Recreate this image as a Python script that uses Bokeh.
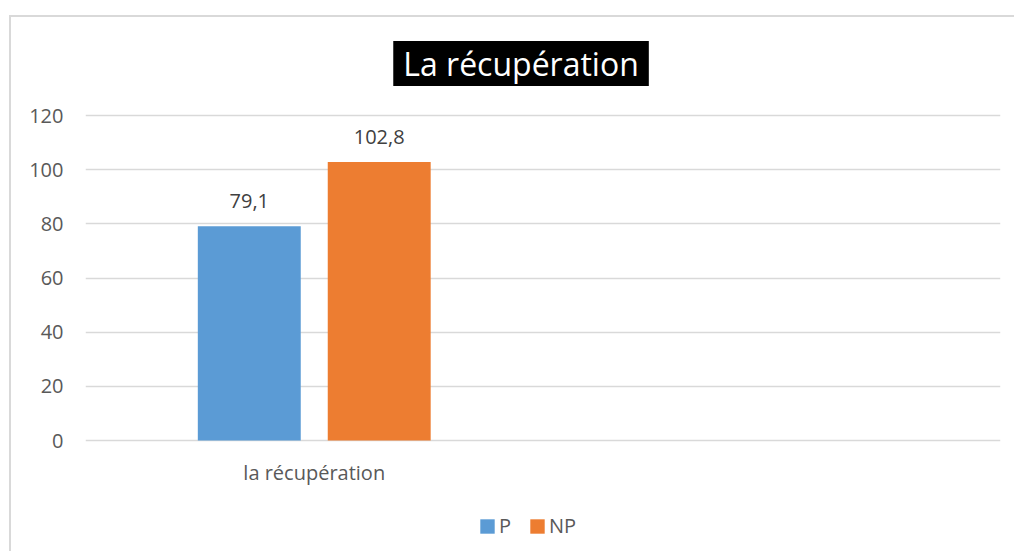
from bokeh.plotting import figure
from bokeh.models import (Range1d, FixedTicker, Label, LabelSet, ColumnDataSource,
                          Legend, LegendItem)
from bokeh.core.properties import value
from bokeh.transform import dodge
from bokeh.embed import file_html
from bokeh.resources import INLINE

# ---- data ----
categories = ["la récupération"]
series_names = ["P", "NP"]
p_values = [79.1]
np_values = [102.8]
y_ticks = [0, 20, 40, 60, 80, 100, 120]
title_text = "La récupération"

FONT = "Open Sans"
BLUE = "#5B9BD5"
ORANGE = "#ED7D31"
GRID = "#D9D9D9"
TICK_TXT = "#595959"

n_slots = 2  # one filled category + one empty slot (as in the reference)
xs = [i + 0.5 for i in range(len(categories))]

src = ColumnDataSource(dict(
    x=xs,
    y0=[0] * len(categories),
    cat=categories,
    p=p_values,
    np_=np_values,
    p_lbl=[f"{v:.1f}".replace(".", ",") for v in p_values],
    np_lbl=[f"{v:.1f}".replace(".", ",") for v in np_values],
))

# frame spans the canvas vertically; value axis 0..120 occupies the middle part
p = figure(width=1005, height=536, output_backend="svg", toolbar_location=None,
           x_range=Range1d(0, n_slots), y_range=Range1d(-41.72, 156.185),
           min_border_left=74, min_border_right=16, min_border_top=0,
           min_border_bottom=0)
p.title = None
p.margin = (15, 0, 0, 9)
p.styles = {"border-top": f"2px solid {GRID}", "border-left": f"2px solid {GRID}"}
p.outline_line_color = None
p.background_fill_color = "white"
p.border_fill_color = "white"

off = 0.142
bw = 0.225
r1 = p.vbar(x=dodge("x", -off, range=p.x_range), top="p", width=bw, source=src,
            fill_color=BLUE, line_color=None)
r2 = p.vbar(x=dodge("x", off, range=p.x_range), top="np_", width=bw, source=src,
            fill_color=ORANGE, line_color=None)

for col, lbl, o in (("p", "p_lbl", -off), ("np_", "np_lbl", off)):
    p.add_layout(LabelSet(x=dodge("x", o, range=p.x_range), y=col, text=lbl, source=src,
                          text_align="center", text_baseline="alphabetic", y_offset=18,
                          text_font=value(FONT), text_font_size="20px",
                          text_color="#404040"))

# category labels under the zero line
p.add_layout(LabelSet(x="x", y="y0", text="cat", source=src, text_align="center",
                      text_baseline="top", y_offset=-18, text_font=value(FONT),
                      text_font_size="20px", text_color=TICK_TXT))

# title box
p.add_layout(Label(x=0.952, y=139.2, text=title_text, text_align="center",
                   text_baseline="middle", text_font=FONT, text_font_size="32px",
                   text_color="white", background_fill_color="black",
                   padding=(10, 1)))

# axes
p.yaxis.ticker = FixedTicker(ticks=y_ticks)
p.yaxis.axis_line_color = None
p.yaxis.major_tick_line_color = None
p.yaxis.minor_tick_line_color = None
p.yaxis.major_tick_out = 0
p.yaxis.major_label_standoff = 22
p.yaxis.major_label_text_font = FONT
p.yaxis.major_label_text_font_size = "20px"
p.yaxis.major_label_text_color = TICK_TXT
p.xaxis.visible = False

p.xgrid.grid_line_color = None
p.ygrid.ticker = FixedTicker(ticks=y_ticks)
p.ygrid.grid_line_color = GRID
p.ygrid.grid_line_width = 1.5

legend = Legend(items=[LegendItem(label=series_names[0], renderers=[r1]),
                       LegendItem(label=series_names[1], renderers=[r2])],
                orientation="horizontal", location=(393, 14),
                glyph_width=18, glyph_height=18, label_standoff=3, spacing=9,
                padding=0, margin=0, border_line_color=None,
                background_fill_alpha=0,
                label_text_font=FONT, label_text_font_size="20px",
                label_text_color=TICK_TXT)
p.add_layout(legend)

open("out.html", "w").write(file_html(p, INLINE))
